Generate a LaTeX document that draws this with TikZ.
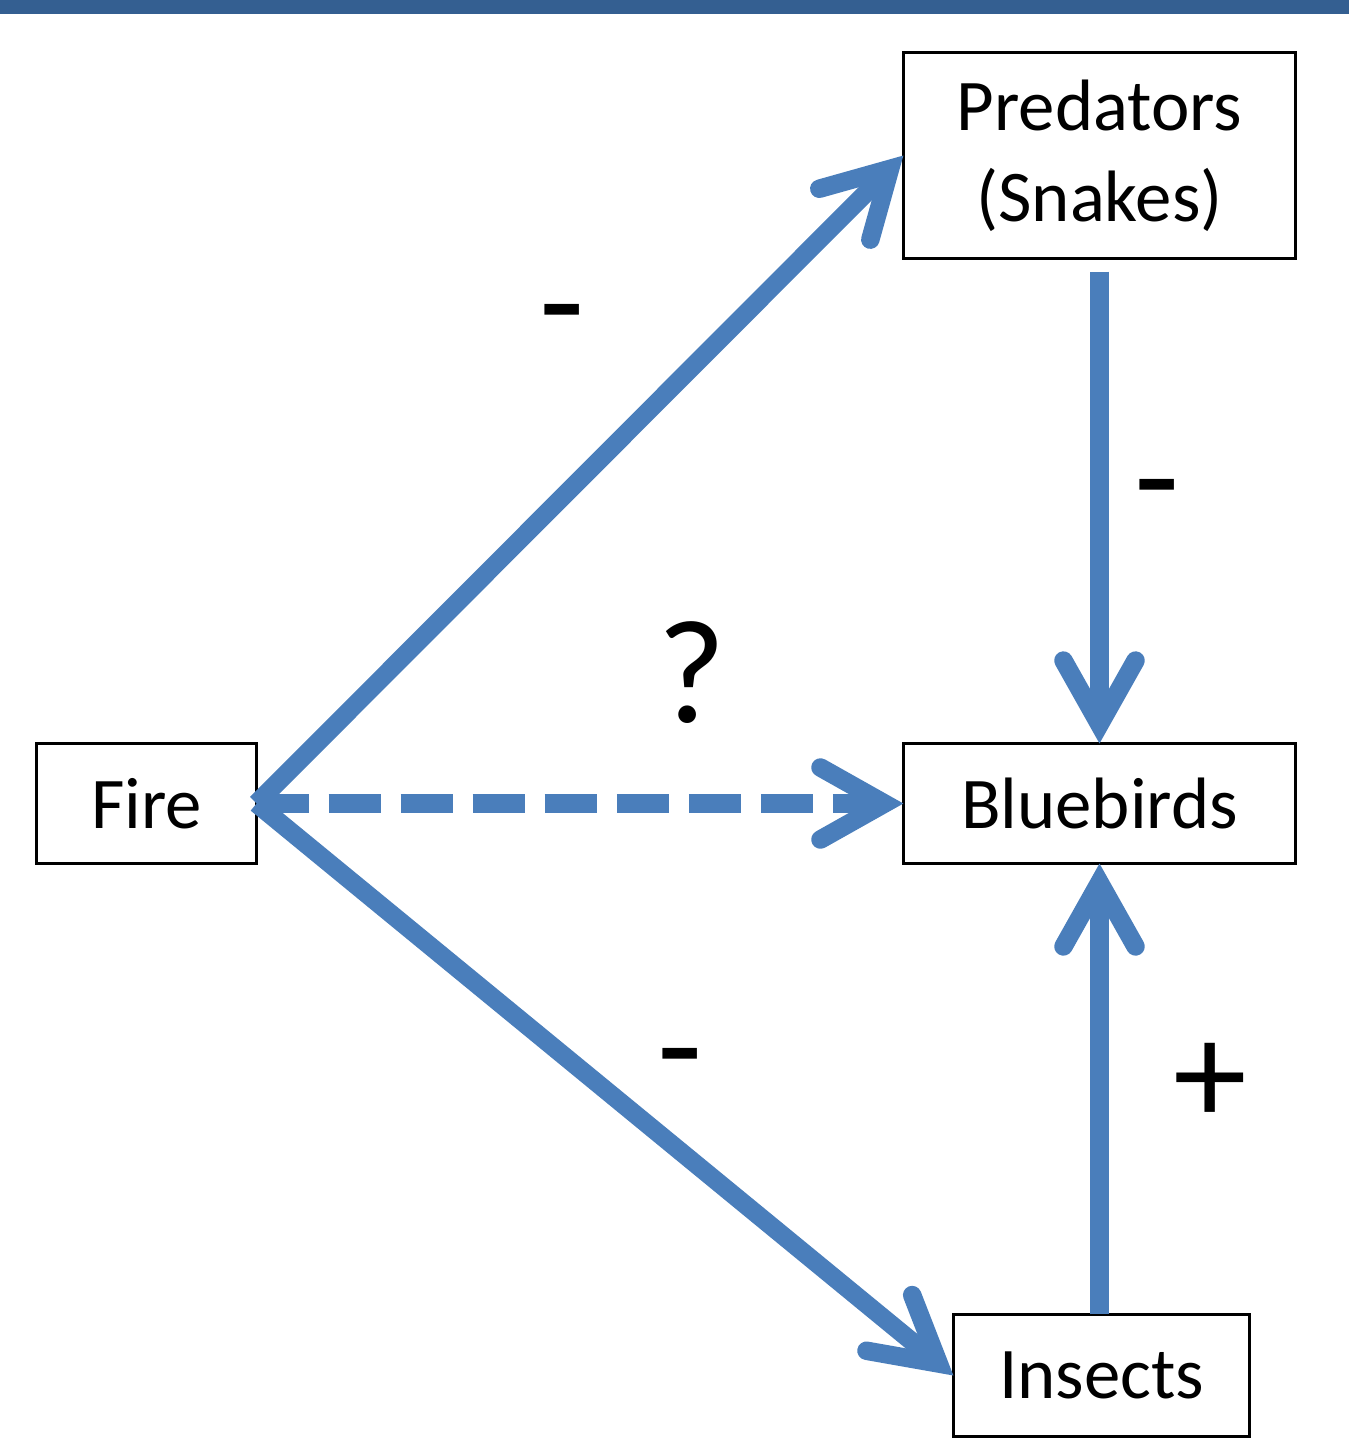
\documentclass[tikz,border=0pt]{standalone}
\usepackage{fontspec}
\setmainfont{Carlito}
\usetikzlibrary{arrows.meta}
\definecolor{barblue}{HTML}{345F91}
\definecolor{arrblue}{HTML}{4A7EBB}
\begin{document}
\begin{tikzpicture}[x=0.01cm,y=-0.01cm,
  box/.style={draw=black, line width=0.03cm, inner sep=0pt, outer sep=0pt,
    align=center, font=\fontsize{20.7}{26}\selectfont},
  conn/.style={draw=arrblue, line width=0.185cm,
    -{Straight Barb[length=0.64cm,width=0.72cm,line cap=round,line join=miter]}},
  dashconn/.style={conn, dash pattern=on 0.52cm off 0.20cm},
  sign/.style={font=\fontsize{42}{50}\selectfont, inner sep=0pt, anchor=base}
]
\useasboundingbox (0,0) rectangle (1349,1444);
\fill[barblue] (0,0) rectangle (1349,14);

\node[box, minimum width=3.92cm, minimum height=2.06cm] (pred) at (1099.5,155.5) {Predators\\(Snakes)};
\node[box, minimum width=2.20cm, minimum height=1.20cm] (fire) at (146.5,803.5) {Fire};
\node[box, minimum width=3.92cm, minimum height=1.20cm] (blue) at (1099.5,803.5) {Bluebirds};
\node[box, minimum width=2.96cm, minimum height=1.22cm] (ins) at (1101.5,1375.5) {Insects};

\draw[conn] (fire.east) -- (pred.west);
\draw[dashconn] (fire.east) -- (blue.west);
\draw[conn] (fire.east) -- (ins.west);
\draw[conn, shorten <=0.13cm] (pred.south) -- (blue.north);
\draw[conn] (blue.south |- ins.north) -- (blue.south);

\node[sign] (s1) at (562,351) {-};
\node[sign] (s2) at (1157,526) {-};
\node[sign] (s3) at (692,722) {?};
\node[sign] (s4) at (680,1095) {-};
\node[sign] (s5) at (1210,1124) {+};
\end{tikzpicture}
\end{document}
